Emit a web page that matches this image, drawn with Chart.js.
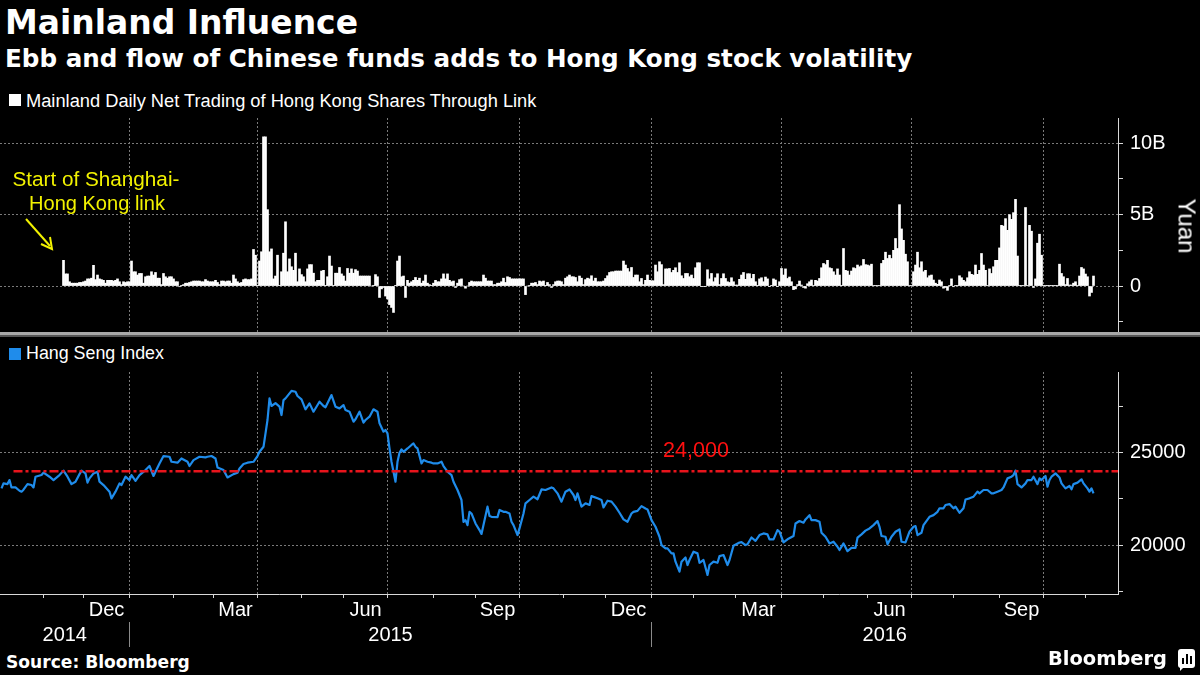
<!DOCTYPE html>
<html>
<head>
<meta charset="utf-8">
<script src="https://cdn.jsdelivr.net/npm/chart.js@4.4.0/dist/chart.umd.min.js"></script>
<style>
  html, body { margin: 0; padding: 0; background: #000; }
  #page { position: relative; width: 1200px; height: 675px; overflow: hidden; background: #000; color: #fff;
          font-family: 'Liberation Sans', Arial, sans-serif; }
  canvas { position: absolute; left: 0; }
  .txt { position: absolute; white-space: nowrap; line-height: 1; }
  .bold { font-family: 'DejaVu Sans', sans-serif; font-weight: bold; }
  .swatch { position: absolute; width: 12px; height: 12px; }
</style>
</head>
<body>
<div id="page">
  <canvas id="flowChart" width="1200" height="214" style="top:118px"></canvas>
  <canvas id="hsiChart" width="1200" height="278" style="top:372px"></canvas>

  <div style="position:absolute;left:0;top:332px;width:1200px;height:3px;background:#a8a8a8"></div>
  <div style="position:absolute;left:0;top:335px;width:1200px;height:2px;background:#555"></div>

  <div class="txt bold" data-w="353" data-cy="23" style="left:5px">Mainland Influence</div>
  <div class="txt bold" data-w="908" data-cy="59" style="left:5px">Ebb and flow of Chinese funds adds to Hong Kong stock volatility</div>

  <div class="swatch" style="left:9px;top:94px;background:#fff"></div>
  <div class="txt" data-w="511" data-cy="101" style="left:26px">Mainland Daily Net Trading of Hong Kong Shares Through Link</div>
  <div class="swatch" style="left:9px;top:348px;background:#1f8ceb"></div>
  <div class="txt" data-w="138" data-cy="354" style="left:26px">Hang Seng Index</div>

  <div class="txt" data-w="167" data-cx="96" data-cy="179" style="color:#f2f200">Start of Shanghai-</div>
  <div class="txt" data-w="136" data-cx="97" data-cy="203" style="color:#f2f200">Hong Kong link</div>
  <svg style="position:absolute;left:0;top:0" width="200" height="300">
    <line x1="26" y1="219" x2="50" y2="246" stroke="#f2f200" stroke-width="2"/>
    <polyline points="41,244 52,249 50,237" fill="none" stroke="#f2f200" stroke-width="2"/>
  </svg>

  <div class="txt" id="yuan" data-w="55" data-cx="1186" data-cy="226" data-rot="1">Yuan</div>
  <div class="txt" data-w="66" data-cy="450" style="left:663px;color:#ff1010">24,000</div>

  <div class="txt bold" data-w="184" data-cy="662" style="left:6px">Source: Bloomberg</div>
  <div class="txt bold" data-w="119" data-cy="659" style="left:1048px">Bloomberg</div>
  <div style="position:absolute;left:1178px;top:649px;width:17px;height:19px;background:#fff;border-radius:3px">
    <div style="position:absolute;left:4px;top:9px;width:2px;height:6px;background:#000"></div>
    <div style="position:absolute;left:8px;top:5px;width:2px;height:10px;background:#000"></div>
    <div style="position:absolute;left:12px;top:7px;width:2px;height:8px;background:#000"></div>
  </div>
  <div style="position:absolute;left:1180px;top:667px;width:0;height:0;border-left:4px solid #fff;border-bottom:4px solid transparent"></div>
</div>

<script>
// ---- data ----
// Mainland net buying of HK shares via Stock Connect, billion yuan, one value per weekday from flowStartDate
const flowStartDate = '2014-11-17';
const netFlowBn = [
  1.8,0.85,0.85,0.3,0.2,0.2,0.2,0.2,0.25,0.25,
  0.3,0.35,0.5,0.5,0.55,1.45,0.45,0.77,0.5,0.45,
  0.4,0.2,0.4,0.4,0.4,0.35,0.4,0.5,0.3,0.1,
  0.3,0.25,0.3,0.3,1.75,1.0,1.0,0.77,0.88,0.88,
  0.2,0.65,0.7,0.7,1.0,0.77,0.95,0.55,0.55,0.1,
  0.88,0.65,0.55,0.65,0.65,0.5,0.3,0.3,-0.05,0.05,
  0.1,0.2,0.2,0.25,0.3,0.35,0.35,0.35,0.35,0.3,
  0.3,0.45,0.35,0.3,0.3,0.3,0.4,0.25,0.1,0.35,
  0.35,0.3,0.35,0.35,0.2,0.77,0.5,0.3,0.2,0.25,
  0.45,0.5,0.45,0.45,0.5,2.56,2.16,0.05,1.75,2.4,
  10.45,10.45,5.35,2.4,2.6,0.5,0.7,2.16,0.05,1.0,
  2.3,4.5,1.0,1.9,1.35,1.1,2.3,0.3,1.2,0.8,
  0.65,0.3,1.2,1.5,1.5,0.9,0.3,0.4,0.4,1.05,
  1.1,0.05,0.65,2.1,1.4,0.05,0.9,0.9,1.3,0.85,
  0.7,0.35,1.23,0.9,1.2,0.9,1.15,1.05,0.7,0.7,
  0.7,0.7,0.7,0.7,0.0,0.05,0.8,0.65,-0.8,-0.2,
  -0.1,-0.7,-0.9,-1.3,-1.5,-1.85,0.05,1.75,2.1,0.65,
  0.7,-0.8,0.4,0.2,0.3,0.4,0.6,0.4,0.55,0.2,
  0.35,0.77,0.2,0.1,0.05,0.2,0.4,0.3,0.3,0.5,
  0.85,0.5,0.85,0.4,0.3,0.35,-0.1,0.2,0.45,0.5,
  0.0,-0.15,0.0,0.25,0.35,0.3,0.3,0.3,0.3,0.3,
  0.77,0.55,0.35,0.35,0.35,0.1,0.1,0.2,0.2,0.3,
  0.55,0.25,0.65,0.6,0.5,0.5,0.5,0.5,0.5,0.5,
  0.5,-0.6,0.0,0.05,0.2,0.2,0.25,0.1,0.35,0.3,
  0.35,0.05,0.25,0.1,-0.1,0.1,0.3,0.35,0.35,0.3,
  0.1,0.55,0.65,0.77,0.65,0.65,0.6,0.3,0.7,0.55,
  0.1,0.45,0.55,
  0.5,0.72,0.35,0.55,0.3,0.3,0.3,0.35,0.53,0.72,
  0.95,1.0,1.0,1.05,1.05,1.05,1.05,1.75,1.47,1.23,
  1.0,1.3,0.6,0.77,0.77,0.3,0.53,0.1,0.4,0.77,
  0.4,0.37,0.37,1.47,1.0,1.7,1.5,0.1,1.2,1.2,
  1.23,0.95,1.1,1.28,0.95,1.63,0.72,0.53,0.88,0.88,
  0.65,0.77,0.53,1.28,1.63,1.63,-0.03,-0.03,-0.03,1.14,
  0.5,0.88,0.3,0.58,0.86,0.1,0.53,0.86,0.53,0.3,
  0.25,0.58,0.3,0.07,0.07,0.47,0.77,0.95,0.47,0.86,
  0.86,0.53,0.82,0.3,0.05,0.5,0.58,0.3,0.63,0.5,
  -0.02,0.05,0.5,0.42,-0.02,0.3,1.23,0.77,1.2,0.53,
  0.63,0.3,-0.25,-0.2,0.1,0.35,0.07,-0.1,-0.15,0.16,
  0.3,0.42,0.02,0.4,0.35,0.53,1.28,1.58,1.5,1.8,
  1.28,1.23,1.0,0.77,1.2,0.77,0.05,2.63,1.1,1.05,
  0.77,1.05,
  1.28,1.23,1.47,1.35,1.42,1.86,1.5,1.47,1.42,1.53,
  0.02,0.02,0.02,0.02,1.58,1.8,2.37,1.93,2.16,1.93,
  2.5,3.33,2.63,5.7,4.0,3.2,2.23,1.7,0.02,0.02,
  1.0,1.47,2.37,1.28,1.7,1.0,1.1,0.58,0.72,0.77,
  0.42,0.2,0.12,0.42,0.3,-0.15,-0.1,-0.3,0.02,0.5,
  -0.05,0.02,0.02,0.72,0.58,0.4,0.3,0.58,1.0,0.82,
  0.77,1.47,0.82,1.1,2.28,1.47,1.1,0.02,1.2,0.88,
  1.35,1.8,1.8,2.67,4.25,4.2,4.72,3.9,5.0,4.67,
  5.14,6.07,2.1,0.02,0.02,0.02,5.5,0.02,4.25,3.84,
  -0.1,0.5,3.0,3.63,2.16,0.02,0.02,0.02,0.02,0.02,
  0.02,0.02,0.02,1.53,0.88,0.65,0.1,0.53,0.07,0.07,
  0.2,0.3,0.02,0.7,1.3,1.2,0.84,0.65,-0.7,-0.45,
  0.7
];
const flowTickValues = [-2.5, 0, 2.5, 5, 7.5, 10];
const flowTickLabels = ['', '0', '', '5B', '', '10B'];

// Hang Seng Index; position = weekday number counted from 1 Jan 2015
const hsiWeekday = [
  -64,-63,-61,-60,-59,-57,-55,-54,-53,-51,
  -49,-48,-47,-44,-43,-40,-38,-35,-33,-31,
  -29,-27,-25,-24,-22,-21,-20,-18,-16,-15,
  -13,-10,-9,-7,-5,-4,-2,0,1,3,
  5,8,10,12,13,15,17,20,21,24,
  26,29,30,32,35,38,39,41,43,44,
  47,49,52,54,55,57,59,62,64,65,
  67,69,70,71,73,75,76,77,78,81,
  83,84,86,88,90,92,95,97,98,101,
  103,105,107,108,110,112,113,115,117,118,
  120,122,124,125,127,128,129,130,131,132,
  133,134,135,136,137,139,141,142,143,144,
  146,147,149,151,152,154,156,157,159,161,
  162,164,166,167,168,169,170,171,173,175,
  176,179,180,181,184,185,187,188,190,191,
  192,194,195,197,198,200,202,204,206,208,
  211,212,214,216,218,220,222,223,224,226,
  228,230,231,234,236,237,239,241,243,245,
  247,249,251,252,254,256,258,259,261,263,
  265,266,268,269,271,272,273,275,276,278,
  279,280,282,284,285,287,289,290,292,294,
  295,297,299,300,302,
  305,306,308,309,311,313,315,317,319,320,
  322,324,325,327,329,332,333,335,337,338,
  340,341,343,345,346,348,350,352,354,355,
  357,359,361,363,364,366,368,370,372,374,
  375,376,378,379,381,383,385,386,388,390,
  392,393,394,396,397,400,402,404,405,407,
  408,410,412,413,415,417,418,420,422,424,
  425,427,429,431,432,434,436,437,439,441,
  442,443,444,446,448,449,451,452,454,455,
  456,458,459,460,461,463,465,466,468,470,
  471,472,474,476,477,479,480,481,482
];
const hsiClose = [
  23070,23340,23300,23520,23120,23120,22940,22890,23000,23300,
  23250,23120,23700,23790,23920,23700,23520,23790,24030,23700,
  23300,23430,23840,24030,23880,23380,23610,23880,23970,23430,
  23250,22890,22530,22890,23340,23250,23700,23520,23790,23480,
  23790,24060,24280,23740,23970,24420,24820,24780,24510,24460,
  24690,24510,24280,24600,24780,24750,24780,24820,24690,24200,
  24060,23660,23840,23920,24150,24390,24460,24510,24820,25050,
  25320,26770,27940,27530,27680,27500,27040,27850,27940,28350,
  28300,28070,27890,27350,27670,27220,27760,27530,27460,28120,
  27490,27400,27580,27310,27220,26680,26810,27220,26630,26770,
  26950,27350,27220,26590,26140,26230,26050,25230,24510,23970,
  23430,24510,25000,25180,25050,25230,25420,25500,25320,25230,
  24420,24600,24510,24460,24420,24420,24510,24280,23970,23790,
  23430,22980,22440,21260,21350,21080,21800,21710,21170,20810,
  20600,22080,21570,21530,21510,21900,21800,21800,21710,21260,
  21080,20540,20900,21710,22260,22440,22620,22480,23010,22980,
  23120,23070,22800,22350,22890,23010,22710,22440,22800,22080,
  22260,22170,22650,22530,22440,22040,22400,22350,22080,21750,
  21390,21260,21710,21800,21850,22110,21980,21930,21350,20990,
  20450,20000,19820,19820,19550,19550,19100,18560,19100,19330,
  18920,19190,19640,19550,19040,19190,18380,18920,19100,19040,
  19400,19460,18920,19190,19960,
  20140,20160,20000,20040,20410,20230,20540,20630,20580,20310,
  20310,20810,20720,20140,20310,20490,21170,21300,21210,21390,
  21620,21350,21350,21260,20670,20450,20090,20180,19910,19730,
  20090,19670,19850,19850,20400,20580,20780,20900,21080,21300,
  20990,20490,20450,20040,20450,20720,20850,20180,20140,20720,
  20990,21030,20540,20670,21080,21530,21620,21800,21990,21990,
  22170,22220,21990,22080,21750,21990,22470,22530,22620,22890,
  22800,22980,22980,22800,22800,22890,22980,23120,23610,23700,
  23790,24030,23300,23120,23340,23520,23520,23700,23300,23610,
  23520,23740,23160,23520,23700,23880,23660,23340,23070,23200,
  23020,23300,23380,23560,23340,23070,22890,23070,22800
];
const hsiTickValues = [17500, 20000, 22500, 25000, 27500];
const hsiTickLabels = ['', '20000', '', '25000', ''];
const thresholdLevel = 24000;
const thresholdFrom = '2014-10-13';

const monthLabelMonths = ['2014-12', '2015-03', '2015-06', '2015-09', '2015-12', '2016-03', '2016-06', '2016-09'];
const monthLabels = ['Dec', 'Mar', 'Jun', 'Sep', 'Dec', 'Mar', 'Jun', 'Sep'];
const yearLabels = ['2014', '2015', '2016'];

// ---- weekday axis helpers ----
const DAY = 86400000;
const EPOCH = Date.UTC(2015, 0, 1);
function toUTC(s) {
  const p = s.split('-').map(Number);
  return Date.UTC(p[0], p[1] - 1, p[2] || 1);
}
function weekdayIndex(s) {
  const t = toUTC(s);
  const a = Math.min(t, EPOCH), b = Math.max(t, EPOCH);
  let n = 0;
  for (let u = a; u < b; u += DAY) {
    const g = new Date(u).getUTCDay();
    if (g !== 0 && g !== 6) n++;
  }
  return t >= EPOCH ? n : -n;
}
function nextMonth(ym) {
  let [y, m] = ym.split('-').map(Number);
  m++; if (m > 12) { m = 1; y++; }
  return y + '-' + String(m).padStart(2, '0');
}

const X_MIN = -64.75, X_MAX = 494.25;

const monthStarts = [];
for (let ym = '2014-11'; ym !== '2016-12'; ym = nextMonth(ym)) {
  monthStarts.push({ value: weekdayIndex(ym + '-01'), quarter: (Number(ym.slice(5)) - 1) % 3 === 0 });
}
const quarterStarts = monthStarts.filter(t => t.quarter).map(t => t.value);
const monthMid = monthLabelMonths.map(ym => (weekdayIndex(ym + '-01') + weekdayIndex(nextMonth(ym) + '-01')) / 2);

const yearTicks = [];
const yearTickLabels = [];
yearLabels.forEach((y, i) => {
  const a = Math.max(weekdayIndex(y + '-01-01'), X_MIN);
  const b = Math.min(weekdayIndex((+y + 1) + '-01-01'), X_MAX);
  if (i > 0) { yearTicks.push(weekdayIndex(y + '-01-01')); yearTickLabels.push(''); }
  yearTicks.push((a + b) / 2); yearTickLabels.push(y);
});

const flowX0 = weekdayIndex(flowStartDate);
const flowPoints = netFlowBn.map((v, i) => ({ x: flowX0 + i, y: v }));
const hsiPoints = hsiWeekday.map((w, i) => ({ x: w, y: hsiClose[i] }));
const thresholdPoints = [{ x: weekdayIndex(thresholdFrom), y: thresholdLevel }, { x: X_MAX, y: thresholdLevel }];

// ---- charts ----
Chart.defaults.font.family = "'Liberation Sans', Arial, sans-serif";
Chart.defaults.color = '#fff';

const GRID = '#7a7a7a';
const AXIS = '#d8d8d8';
const setTicks = list => scale => { scale.ticks = list.map(v => ({ value: v })); };

new Chart(document.getElementById('flowChart'), {
  type: 'bar',
  data: { datasets: [{ data: flowPoints, backgroundColor: '#fff', borderWidth: 0, barThickness: 2 }] },
  options: {
    responsive: false, animation: false, devicePixelRatio: 1,
    layout: { padding: 0 },
    plugins: { legend: { display: false }, tooltip: { enabled: false } },
    scales: {
      x: {
        type: 'linear', min: X_MIN, max: X_MAX, offset: false,
        afterBuildTicks: setTicks(quarterStarts),
        afterFit: s => { s.height = 0; s.paddingLeft = 0; s.paddingRight = 0; },
        ticks: { display: false },
        grid: { color: GRID, drawTicks: false, offset: false },
        border: { display: false, dash: [2, 2] }
      },
      y: {
        position: 'right', min: -3.22, max: 11.77,
        afterBuildTicks: setTicks(flowTickValues),
        afterFit: s => { s.width = 82; s.paddingTop = 0; s.paddingBottom = 0; },
        ticks: { font: { size: 20 }, padding: 7, color: '#fff', callback: (v, i) => flowTickLabels[i] },
        grid: { color: c => flowTickLabels[c.index] ? GRID : 'transparent', tickColor: AXIS, tickLength: 5 },
        border: { color: AXIS, width: 1, dash: [2, 2] }
      }
    }
  }
});

new Chart(document.getElementById('hsiChart'), {
  type: 'line',
  data: {
    datasets: [
      { data: thresholdPoints, borderColor: '#e8141c', borderWidth: 2.5, borderDash: [9, 3, 3, 3], pointRadius: 0 },
      { data: hsiPoints, borderColor: '#1f8ceb', borderWidth: 2.2, pointRadius: 0, tension: 0, borderJoinStyle: 'round' }
    ]
  },
  options: {
    responsive: false, animation: false, devicePixelRatio: 1,
    layout: { padding: 0 },
    plugins: { legend: { display: false }, tooltip: { enabled: false } },
    scales: {
      x: {
        type: 'linear', position: 'bottom', weight: 0, min: X_MIN, max: X_MAX,
        afterBuildTicks: s => { s.ticks = monthStarts.filter(t => t.value >= X_MIN).map(t => ({ value: t.value, quarter: t.quarter })); },
        afterFit: s => { s.height = 4; s.paddingLeft = 0; s.paddingRight = 0; },
        ticks: { display: false },
        grid: { color: c => (c.tick && c.tick.quarter) ? GRID : 'transparent', tickColor: AXIS, tickLength: 4 },
        border: { color: AXIS, width: 1, dash: [2, 2] }
      },
      xMonth: {
        type: 'linear', position: 'bottom', weight: 1, min: X_MIN, max: X_MAX,
        afterBuildTicks: setTicks(monthMid),
        afterFit: s => { s.height = 24; s.paddingLeft = 0; s.paddingRight = 0; },
        ticks: { font: { size: 20 }, color: '#fff', padding: 0, autoSkip: false, maxRotation: 0, callback: (v, i) => monthLabels[i] },
        grid: { display: false, drawTicks: false },
        border: { display: false }
      },
      xYear: {
        type: 'linear', position: 'bottom', weight: 2, min: X_MIN, max: X_MAX,
        afterBuildTicks: setTicks(yearTicks),
        afterFit: s => { s.height = 28; s.paddingLeft = 0; s.paddingRight = 0; },
        ticks: { font: { size: 20 }, color: '#fff', padding: -24, autoSkip: false, maxRotation: 0, callback: (v, i) => yearTickLabels[i] },
        grid: { drawOnChartArea: false, color: c => yearTickLabels[c.index] === '' ? '#8a8a8a' : 'transparent', tickLength: 25 },
        border: { display: false }
      },
      y: {
        position: 'right', min: 17350, max: 29370,
        afterBuildTicks: setTicks(hsiTickValues),
        afterFit: s => { s.width = 82; s.paddingTop = 0; s.paddingBottom = 0; },
        ticks: { font: { size: 20 }, padding: 7, color: '#fff', callback: (v, i) => hsiTickLabels[i] },
        grid: { color: c => hsiTickLabels[c.index] ? GRID : 'transparent', tickColor: AXIS, tickLength: 5 },
        border: { color: AXIS, width: 1, dash: [2, 2] }
      }
    }
  }
});

// ---- size the overlay texts to the widths seen in the reference ----
document.querySelectorAll('[data-w]').forEach(el => {
  const target = parseFloat(el.dataset.w);
  el.style.fontSize = '20px';
  const w = el.getBoundingClientRect().width;
  const size = 20 * target / w;
  el.style.fontSize = size + 'px';
  el.style.lineHeight = size + 'px';
  const cy = parseFloat(el.dataset.cy);
  if (el.dataset.rot) {
    el.style.left = (parseFloat(el.dataset.cx) - target / 2) + 'px';
    el.style.top = (cy - size / 2) + 'px';
    el.style.transform = 'rotate(90deg)';
  } else {
    el.style.top = (cy - 0.49 * size) + 'px';
    if (el.dataset.cx) el.style.left = (parseFloat(el.dataset.cx) - target / 2) + 'px';
  }
});
</script>
</body>
</html>
